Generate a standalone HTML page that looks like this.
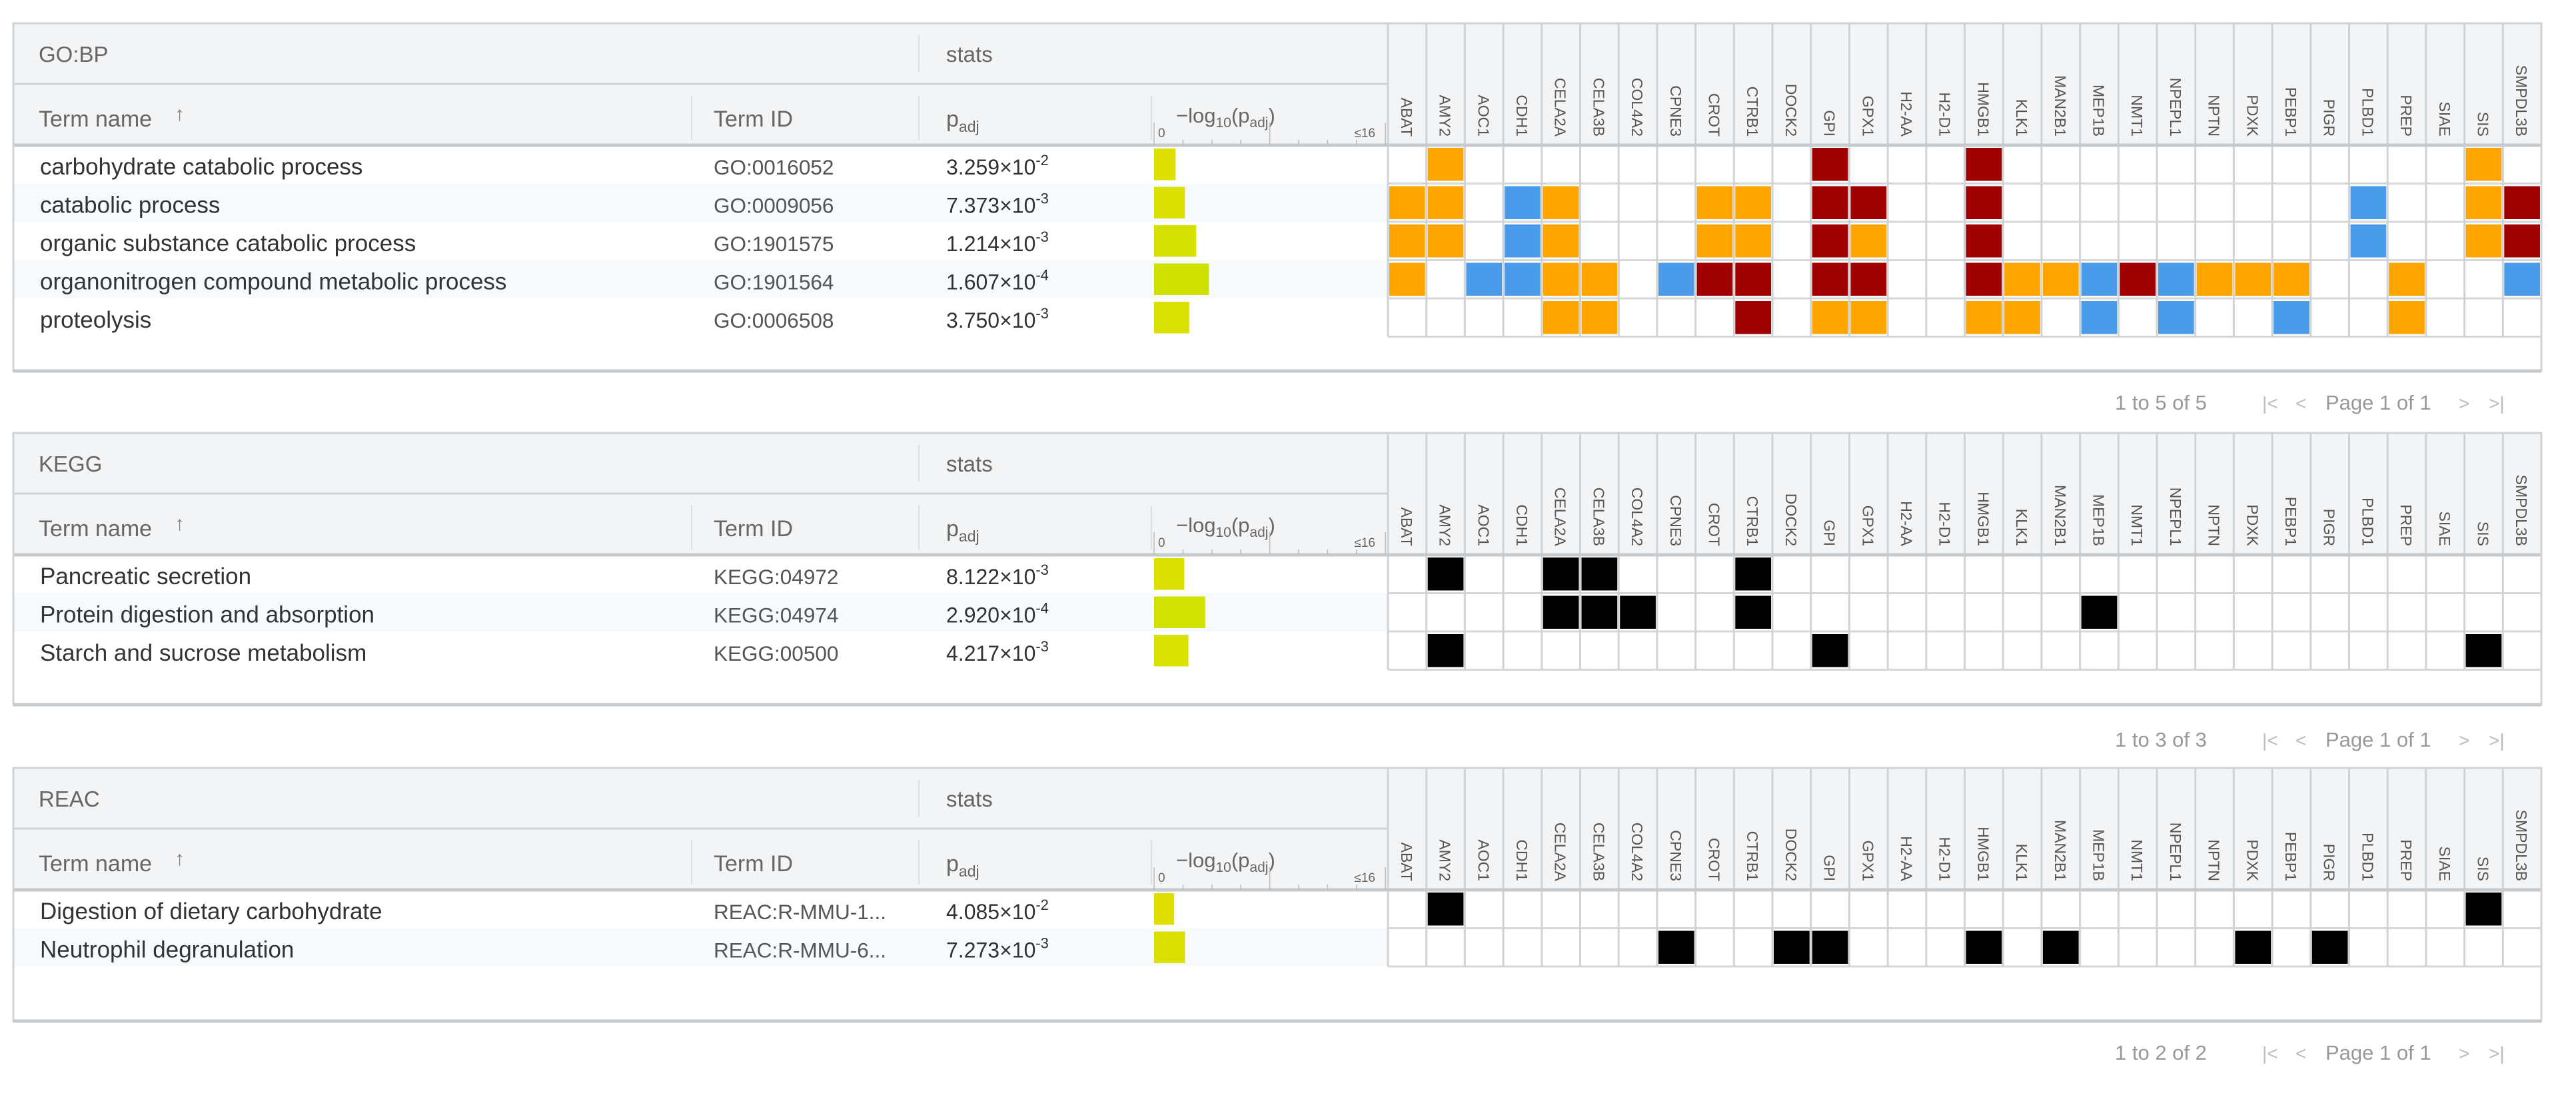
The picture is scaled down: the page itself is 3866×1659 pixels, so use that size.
<!DOCTYPE html>
<html><head><meta charset="utf-8">
<style>
html,body{margin:0;padding:0;background:#fff;}
svg{display:block;font-family:"Liberation Sans",sans-serif;}
</style></head>
<body>
<svg id="chart" width="3866" height="1659" viewBox="0 0 3866 1659"></svg>
<script>
const genes = ["ABAT","AMY2","AOC1","CDH1","CELA2A","CELA3B","COL4A2","CPNE3","CROT","CTRB1","DOCK2","GPI","GPX1","H2-AA","H2-D1","HMGB1","KLK1","MAN2B1","MEP1B","NMT1","NPEPL1","NPTN","PDXK","PEBP1","PIGR","PLBD1","PREP","SIAE","SIS","SMPDL3B"];

const gobpNames = ["carbohydrate catabolic process","catabolic process","organic substance catabolic process","organonitrogen compound metabolic process","proteolysis"];
const gobpIds = ["GO:0016052","GO:0009056","GO:1901575","GO:1901564","GO:0006508"];
const gobpMant = ["3.259","7.373","1.214","1.607","3.750"];
const gobpExp = [-2,-3,-3,-4,-3];
// O = orange, R = dark red, B = blue
const gobpHits = [
 {AMY2:"O",GPI:"R",HMGB1:"R",SIS:"O"},
 {ABAT:"O",AMY2:"O",CDH1:"B",CELA2A:"O",CROT:"O",CTRB1:"O",GPI:"R",GPX1:"R",HMGB1:"R",PLBD1:"B",SIS:"O",SMPDL3B:"R"},
 {ABAT:"O",AMY2:"O",CDH1:"B",CELA2A:"O",CROT:"O",CTRB1:"O",GPI:"R",GPX1:"O",HMGB1:"R",PLBD1:"B",SIS:"O",SMPDL3B:"R"},
 {ABAT:"O",AOC1:"B",CDH1:"B",CELA2A:"O",CELA3B:"O",CPNE3:"B",CROT:"R",CTRB1:"R",GPI:"R",GPX1:"R",HMGB1:"R",KLK1:"O",MAN2B1:"O",MEP1B:"B",NMT1:"R",NPEPL1:"B",NPTN:"O",PDXK:"O",PEBP1:"O",PREP:"O",SMPDL3B:"B"},
 {CELA2A:"O",CELA3B:"O",CTRB1:"R",GPI:"O",GPX1:"O",HMGB1:"O",KLK1:"O",MEP1B:"B",NPEPL1:"B",PEBP1:"B",PREP:"O"}
];

const keggNames = ["Pancreatic secretion","Protein digestion and absorption","Starch and sucrose metabolism"];
const keggIds = ["KEGG:04972","KEGG:04974","KEGG:00500"];
const keggMant = ["8.122","2.920","4.217"];
const keggExp = [-3,-4,-3];
const keggHits = [
 {AMY2:"K",CELA2A:"K",CELA3B:"K",CTRB1:"K"},
 {CELA2A:"K",CELA3B:"K",COL4A2:"K",CTRB1:"K",MEP1B:"K"},
 {AMY2:"K",GPI:"K",SIS:"K"}
];

const reacNames = ["Digestion of dietary carbohydrate","Neutrophil degranulation"];
const reacIds = ["REAC:R-MMU-1...","REAC:R-MMU-6..."];
const reacMant = ["4.085","7.273"];
const reacExp = [-2,-3];
const reacHits = [
 {AMY2:"K",SIS:"K"},
 {CPNE3:"K",DOCK2:"K",GPI:"K",HMGB1:"K",MAN2B1:"K",PDXK:"K",PIGR:"K"}
];

const axisTicks = [0,2,4,6,8,10,12,14,16];

const svg = document.getElementById('chart');
const NS = "http://www.w3.org/2000/svg";
function mk(tag, attrs, parent, text){
  const e = document.createElementNS(NS, tag);
  for (const k in attrs) e.setAttribute(k, attrs[k]);
  if (text !== undefined) e.textContent = text;
  (parent||svg).appendChild(e);
  return e;
}
const COLORS = {O:"#ffa500", R:"#a00000", B:"#4a9be9", K:"#000000"};
const X0 = 20, XID = 1038, XP = 1379, XBAR = 1728, XH = 2083, XEND = 3814;
const colW = (XEND - XH) / genes.length;
const barX0 = 1732, unit = 21.7;
function xBar(v){ return barX0 + Math.min(v,16) * unit; }
function xGene(i){ return XH + i * colW; }
function barColor(v){
  const t = Math.min(v/8,1);
  const r = Math.round(232 - t*52), g = Math.round(224 + t*2);
  return "rgb("+r+","+g+",0)";
}

function panel(name, top, bottom, pagY, count, names, ids, mant, exps, hits){
  const g = mk('g', {});
  
  
  const h1 = top + 91, h2 = top + 183, rowH = 57.5;
  mk('rect', {x:X0, y:top, width:XEND-X0, height:183, fill:"#f3f4f5"}, g);
  mk('rect', {x:X0, y:h2, width:XEND-X0, height:bottom-h2, fill:"#fff"}, g);
  for (let r = 0; r < names.length; r++){
    const y = h2 + r*rowH;
    if (r % 2 === 1) mk('rect', {x:X0, y:y, width:XH-X0, height:rowH, fill:"#f7fafd"}, g);
    const cy = y + rowH/2 + 15;
    const t1 = mk('text', {x:60, y:cy, 'font-size':35, fill:"#333"}, g, names[r]);
    
    
    mk('text', {x:1071, y:cy, 'font-size':31.5, fill:"#555"}, g, ids[r]);
    const pt = mk('text', {x:1420, y:cy, 'font-size':32, fill:"#333"}, g);
    
    
    mk('tspan', {}, pt, mant[r] + "×10");
    mk('tspan', {dy:-14, 'font-size':22}, pt, String(exps[r]));
    const v = -Math.log10(parseFloat(mant[r]) * Math.pow(10, exps[r]));
    const b = mk('rect', {x:barX0, y:y+5, width:xBar(v)-barX0, height:rowH-10, fill:barColor(v)}, g);
    
    
    for (let i = 0; i < genes.length; i++){
      const c = hits[r][genes[i]];
      if (c){
        const cell = mk('rect', {x:xGene(i)+2, y:y+4, width:colW-4, height:rowH-8, fill:COLORS[c]}, g);
        
        
      }
    }
    mk('line', {x1:XH, x2:XEND, y1:y+rowH, y2:y+rowH, stroke:"#d4d7da", 'stroke-width':3}, g);
  }
  const rowsEnd = h2 + names.length*rowH;
  for (let i = 0; i <= genes.length; i++){
    mk('line', {x1:xGene(i), x2:xGene(i), y1:top, y2:rowsEnd, stroke:"#d0d3d6", 'stroke-width':3}, g);
    if (i < genes.length){
      const cx = xGene(i) + colW/2 - 9;
      const gl = mk('text', {x:0, y:0, 'font-size':23, fill:"#555", 'text-anchor':'end', transform:"translate("+cx+","+(h2-13)+") rotate(90)"}, g, genes[i]);
      
      
    }
  }
  mk('line', {x1:X0, x2:XH, y1:h1, y2:h1, stroke:"#cfd3d6", 'stroke-width':3}, g);
  mk('line', {x1:XP, x2:XP, y1:top+18, y2:h1-18, stroke:"#dcdfe2", 'stroke-width':2}, g);
  mk('line', {x1:XID, x2:XID, y1:h1+18, y2:h2-8, stroke:"#dcdfe2", 'stroke-width':2}, g);
  mk('line', {x1:XP, x2:XP, y1:h1+18, y2:h2-8, stroke:"#dcdfe2", 'stroke-width':2}, g);
  mk('line', {x1:XBAR, x2:XBAR, y1:h1+18, y2:h2-8, stroke:"#dcdfe2", 'stroke-width':2}, g);
  mk('line', {x1:X0, x2:XEND, y1:h2, y2:h2, stroke:"#c6cacd", 'stroke-width':5}, g);
  mk('text', {x:58, y:top+58, 'font-size':33, fill:"#666"}, g, name);
  mk('text', {x:1420, y:top+58, 'font-size':33, fill:"#666"}, g, "stats");
  const tn = mk('text', {x:58, y:h1+64, 'font-size':34, fill:"#666"}, g, "Term name");
  
  
  mk('text', {x:262, y:h1+55, 'font-size':30, fill:"#888"}, g, "↑");
  mk('text', {x:1071, y:h1+64, 'font-size':34, fill:"#666"}, g, "Term ID");
  const ph = mk('text', {x:1420, y:h1+64, 'font-size':34, fill:"#666"}, g);
  mk('tspan', {}, ph, "p");
  mk('tspan', {dy:8, 'font-size':23}, ph, "adj");
  const lh = mk('text', {x:1765, y:h1+58, 'font-size':31, fill:"#666"}, g);
  mk('tspan', {}, lh, "−log");
  mk('tspan', {dy:7, 'font-size':21}, lh, "10");
  mk('tspan', {dy:-7}, lh, "(p");
  mk('tspan', {dy:7, 'font-size':21}, lh, "adj");
  mk('tspan', {dy:-7}, lh, ")");
  mk('text', {x:barX0+6, y:h2-12, 'font-size':19, fill:"#666"}, g, "0");
  mk('text', {x:2064, y:h2-12, 'font-size':19, fill:"#666", 'text-anchor':'end'}, g, "≤16");
  for (const t of axisTicks){
    const long = (t === 0 || t === 8 || t === 16);
    mk('line', {x1:xBar(t), x2:xBar(t), y1:h2-(long?34:8), y2:h2, stroke:"#bbb", 'stroke-width':1.5}, g);
  }
  mk('rect', {x:X0, y:top, width:XEND-X0, height:bottom-top, fill:"none", stroke:"#cfd3d6", 'stroke-width':3}, g);
  mk('line', {x1:X0, x2:XEND, y1:bottom, y2:bottom, stroke:"#c6cacd", 'stroke-width':5}, g);
  const pg = mk('text', {x:3174, y:pagY+11, 'font-size':31, fill:"#999"}, g, "1 to " + count + " of " + count);
  
  
  const nav = [["|<",3395,"first-page-button"],["<",3445,"prev-page-button"],[">",3690,"next-page-button"],[">|",3735,"last-page-button"]];
  for (const n of nav){
    const b = mk('text', {x:n[1], y:pagY+11, 'font-size':28, fill:"#bbb"}, g, n[0]);
    
    
  }
  mk('text', {x:3490, y:pagY+11, 'font-size':31, fill:"#999"}, g, "Page 1 of 1");
}

panel("GO:BP", 35, 557, 604, 5, gobpNames, gobpIds, gobpMant, gobpExp, gobpHits);
panel("KEGG", 650, 1058, 1110, 3, keggNames, keggIds, keggMant, keggExp, keggHits);
panel("REAC", 1153, 1533, 1580, 2, reacNames, reacIds, reacMant, reacExp, reacHits);
</script>
</body></html>
